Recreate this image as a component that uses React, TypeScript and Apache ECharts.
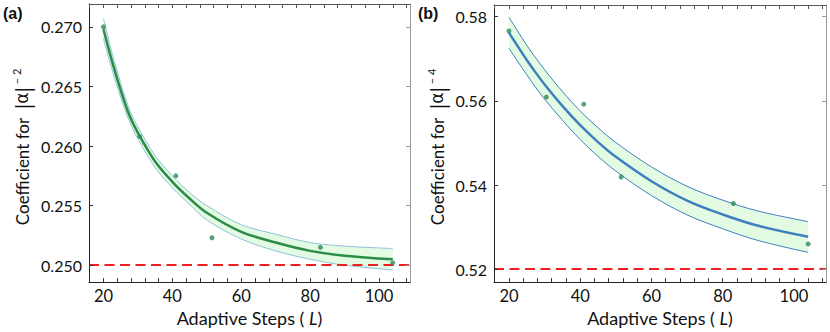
import React, { useEffect, useRef } from "react";
import * as echarts from "echarts";

// ---- data ----
const FIT_X = [20, 22.5, 25, 27.5, 30, 35, 40, 45, 50, 60, 70, 80, 90, 104];

const A_FIT = [0.2698, 0.2671, 0.2647, 0.2626, 0.2611, 0.2587, 0.257, 0.2556, 0.2544, 0.2528, 0.2519, 0.2512, 0.2508, 0.2505];
const A_UPPER = [0.2707, 0.2678, 0.2653, 0.2631, 0.2616, 0.2592, 0.2575, 0.2561, 0.255, 0.2534, 0.2526, 0.2519, 0.2516, 0.2514];
const A_LOWER = [0.269, 0.2664, 0.2641, 0.2621, 0.2606, 0.2582, 0.2565, 0.2551, 0.2538, 0.2522, 0.2512, 0.2505, 0.25, 0.2496];

const B_FIT = [0.5762, 0.5729, 0.5697, 0.5667, 0.5639, 0.5588, 0.5542, 0.5502, 0.5467, 0.5409, 0.5363, 0.533, 0.5303, 0.5277];
const B_UPPER = [0.5799, 0.5765, 0.5732, 0.5702, 0.5674, 0.5622, 0.5576, 0.5536, 0.5501, 0.5443, 0.5397, 0.5364, 0.5338, 0.5313];
const B_LOWER = [0.5725, 0.5693, 0.5662, 0.5632, 0.5604, 0.5554, 0.5508, 0.5468, 0.5433, 0.5375, 0.5329, 0.5296, 0.5268, 0.524];

const DATA_X = [20, 30.5, 41, 51.5, 83, 104];
const A_DATA = [0.27, 0.2608, 0.2575, 0.2523, 0.2515, 0.2502];
const B_DATA = [0.5766, 0.5609, 0.5592, 0.5419, 0.5356, 0.526];

const A_REF = 0.25;
const B_REF = 0.52;

const X_LABELS = [20, 40, 60, 80, 100];
const X_TICKS = [16, 20, 24, 28, 32, 36, 40, 44, 48, 52, 56, 60, 64, 68, 72, 76, 80, 84, 88, 92, 96, 100, 104, 108];
const A_Y_TICKS = [0.25, 0.255, 0.26, 0.265, 0.27];
const B_Y_TICKS = [0.52, 0.54, 0.56, 0.58];

const FONT = "Lato";

const zip = (xs: number[], ys: number[]) => xs.map((x, i) => [x, ys[i]]);

function panelAxes(gi: number, ymin: number, ymax: number, yTicks: number[], digits: number) {
  const xmin = 15.8;
  const xmax = 109;
  const common = { type: "value", gridIndex: gi, min: xmin, max: xmax, splitLine: { show: false }, z: 10 };
  const xBottom = {
    ...common,
    position: "bottom",
    axisLine: { show: true, lineStyle: { color: "#222", width: 1 } },
    axisTick: { show: true, inside: true, length: 4, customValues: X_TICKS, lineStyle: { color: "#333" } },
    axisLabel: { show: true, customValues: X_LABELS, color: "#111", fontSize: 16.5, fontFamily: FONT, margin: 5 },
    name: "{r|Adaptive Steps ( }{i|L}{r|)}",
    nameLocation: "middle",
    nameGap: 18,
    nameTextStyle: {
      rich: {
        r: { fontSize: 18, fontFamily: FONT, color: "#111" },
        i: { fontSize: 18, fontFamily: FONT, fontStyle: "italic", color: "#111" },
      },
    },
  };
  const xTop = {
    ...common,
    position: "top",
    axisLine: { show: true, lineStyle: { color: "#555", width: 1 } },
    axisTick: { show: true, inside: true, length: 4, customValues: X_TICKS, lineStyle: { color: "#555" } },
    axisLabel: { show: false },
  };
  const yc = { type: "value", gridIndex: gi, min: ymin, max: ymax, splitLine: { show: false }, z: 10 };
  const yLeft = {
    ...yc,
    position: "left",
    axisLine: { show: true, lineStyle: { color: "#222", width: 1 } },
    axisTick: { show: true, inside: true, length: 4, customValues: yTicks, lineStyle: { color: "#333" } },
    axisLabel: {
      show: true,
      customValues: yTicks,
      color: "#111",
      fontSize: 16,
      fontFamily: FONT,
      margin: 7,
      formatter: (v: number) => v.toFixed(digits),
    },
  };
  const yRight = {
    ...yc,
    position: "right",
    axisLine: { show: true, lineStyle: { color: "#999", width: 1 } },
    axisTick: { show: true, inside: true, length: 4, customValues: yTicks, lineStyle: { color: "#999" } },
    axisLabel: { show: false },
  };
  return { x: [xBottom, xTop], y: [yLeft, yRight] };
}

function panelSeries(
  gi: number,
  fit: number[],
  upper: number[],
  lower: number[],
  data: number[],
  ref: number,
  lineColor: string,
  edgeColor: string
) {
  const xi = gi * 2;
  const yi = gi * 2;
  return [
    // upper edge: fills light green down to the axis bottom
    {
      type: "line",
      xAxisIndex: xi,
      yAxisIndex: yi,
      data: zip(FIT_X, upper),
      smooth: 0.35,
      symbol: "none",
      lineStyle: { color: edgeColor, width: 1 },
      areaStyle: { color: "#e2fbe2", opacity: 1, origin: "start" },
      z: 1,
    },
    // lower edge: white fill below it so only the band remains green
    {
      type: "line",
      xAxisIndex: xi,
      yAxisIndex: yi,
      data: zip(FIT_X, lower),
      smooth: 0.35,
      symbol: "none",
      lineStyle: { color: edgeColor, width: 1 },
      areaStyle: { color: "#ffffff", opacity: 1, origin: "start" },
      z: 1.5,
    },
    {
      type: "line",
      xAxisIndex: xi,
      yAxisIndex: yi,
      data: zip(FIT_X, fit),
      smooth: 0.35,
      symbol: "none",
      lineStyle: { color: lineColor, width: 2.5 },
      z: 3,
      markLine: {
        silent: true,
        symbol: "none",
        label: { show: false },
        lineStyle: { color: "#f02020", width: 2.2, type: [10, 5.5] },
        data: [{ yAxis: ref }],
      },
    },
    {
      type: "scatter",
      xAxisIndex: xi,
      yAxisIndex: yi,
      data: zip(DATA_X, data),
      symbol: "circle",
      symbolSize: 5,
      itemStyle: { color: "#2e8b57" },
      z: 5,
    },
  ];
}

export default function App() {
  const ref = useRef<HTMLDivElement>(null);
  useEffect(() => {
    if (!ref.current) return;
    const chart = echarts.init(ref.current, null, { renderer: "svg" });
    const a = panelAxes(0, 0.24858, 0.27192, A_Y_TICKS, 3);
    const b = panelAxes(1, 0.51693, 0.58277, B_Y_TICKS, 2);
    const yName = (sup: string) => ({
      text: `{r|Coefficient for  }{bar||}{g|α}{bar||}{sup| − ${sup}}`,
      rich: {
        r: { fontSize: 17, fontFamily: FONT, fill: "#111", verticalAlign: "middle" },
        bar: { fontSize: 22, fontFamily: FONT, fill: "#111", verticalAlign: "middle" },
        g: { fontSize: 17, fontFamily: "DejaVu Sans", fill: "#111", verticalAlign: "middle" },
        sup: { fontSize: 11, fontFamily: FONT, fill: "#111", verticalAlign: "top", lineHeight: 12 },
      },
      align: "center",
      verticalAlign: "middle",
    });
    chart.setOption({
      animation: false,
      textStyle: { fontFamily: FONT },
      grid: [
        { left: 89, top: 4, width: 321, height: 285, containLabel: false },
        { left: 494, top: 5, width: 332, height: 285, containLabel: false },
      ],
      xAxis: [...a.x, ...b.x],
      yAxis: [...a.y, ...b.y],
      series: [
        ...panelSeries(0, A_FIT, A_UPPER, A_LOWER, A_DATA, A_REF, "#2a8c45", "#8fc1dc"),
        ...panelSeries(1, B_FIT, B_UPPER, B_LOWER, B_DATA, B_REF, "#3f7fc0", "#3f7fc0"),
      ],
      graphic: [
        { type: "text", left: 3, top: 5, style: { text: "(a)", font: "bold 16px 'Liberation Sans'", fill: "#111" } },
        { type: "text", left: 418, top: 5, style: { text: "(b)", font: "bold 16px 'Liberation Sans'", fill: "#111" } },
        { type: "text", x: 22, y: 147, rotation: Math.PI / 2, style: yName("2") },
        { type: "text", x: 437, y: 147, rotation: Math.PI / 2, style: yName("4") },
      ],
    });
    return () => chart.dispose();
  }, []);
  return (
    <div
      ref={ref}
      style={{ position: "absolute", left: 0, top: 0, width: 830, height: 332, background: "#fff" }}
    />
  );
}
